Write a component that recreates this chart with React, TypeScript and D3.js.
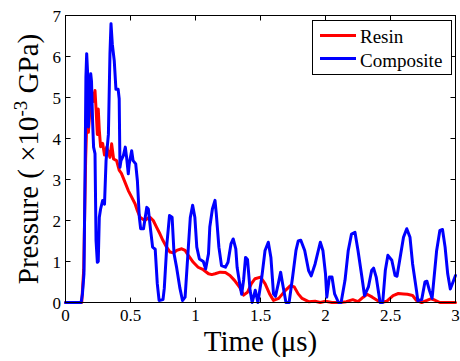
import React from "react";
import * as d3 from "d3";

const xTicks = [0, 0.5, 1, 1.5, 2, 2.5, 3];
const xTickLabels = ["0", "0.5", "1", "1.5", "2", "2.5", "3"];
const yTicks = [0, 1, 2, 3, 4, 5, 6, 7];
const yTickLabels = ["0", "1", "2", "3", "4", "5", "6", "7"];

const resinTime = [0, 0.125, 0.14, 0.155, 0.165, 0.176, 0.19, 0.2, 0.213, 0.227, 0.235, 0.245, 0.252, 0.26, 0.27, 0.286, 0.3, 0.317, 0.342, 0.355, 0.37, 0.393, 0.414, 0.43, 0.458, 0.483, 0.509, 0.535, 0.553, 0.573, 0.61, 0.63, 0.65, 0.675, 0.7, 0.727, 0.75, 0.778, 0.804, 0.83, 0.855, 0.894, 0.92, 0.945, 0.983, 1.02, 1.06, 1.1, 1.125, 1.15, 1.19, 1.23, 1.265, 1.3, 1.34, 1.37, 1.4, 1.43, 1.458, 1.5, 1.535, 1.57, 1.6, 1.64, 1.69, 1.73, 1.76, 1.79, 1.82, 1.87, 1.92, 1.96, 2.0, 2.05, 2.11, 2.16, 2.21, 2.25, 2.29, 2.32, 2.36, 2.4, 2.43, 2.47, 2.52, 2.56, 2.6, 2.63, 2.67, 2.7, 2.74, 2.78, 2.81, 2.84, 2.88, 2.94, 3.0];
const resinPressure = [0, 0, 0.8, 3.5, 4.5, 4.15, 4.8, 5.15, 4.9, 5.17, 4.72, 4.1, 4.72, 4.2, 3.8, 3.88, 3.6, 3.79, 3.54, 3.87, 3.5, 3.46, 3.22, 3.15, 2.93, 2.73, 2.57, 2.41, 2.24, 2.08, 2.0, 2.05, 2.08, 2.0, 1.84, 1.67, 1.51, 1.35, 1.23, 1.21, 1.27, 1.31, 1.27, 1.15, 0.98, 0.86, 0.8, 0.7, 0.68, 0.7, 0.74, 0.73, 0.66, 0.54, 0.37, 0.18, 0.25, 0.46, 0.58, 0.62, 0.46, 0.21, 0.05, 0.1, 0.29, 0.41, 0.38, 0.21, 0.1, 0.02, 0.03, 0, 0.03, 0, 0, 0.02, 0.07, 0.02, 0.13, 0.2, 0.13, 0.05, 0, 0.03, 0.17, 0.22, 0.21, 0.2, 0.17, 0.05, 0, 0.05, 0.09, 0.06, 0, 0, 0];

const compositeTime = [0, 0.12, 0.13, 0.142, 0.15, 0.157, 0.163, 0.17, 0.176, 0.185, 0.194, 0.2, 0.209, 0.216, 0.227, 0.235, 0.245, 0.252, 0.26, 0.27, 0.286, 0.3, 0.312, 0.33, 0.342, 0.35, 0.36, 0.375, 0.388, 0.405, 0.413, 0.419, 0.427, 0.445, 0.46, 0.47, 0.483, 0.49, 0.509, 0.52, 0.54, 0.553, 0.568, 0.578, 0.6, 0.625, 0.637, 0.655, 0.67, 0.69, 0.706, 0.72, 0.75, 0.76, 0.78, 0.8, 0.82, 0.835, 0.855, 0.88, 0.9, 0.92, 0.945, 0.96, 0.978, 0.995, 1.01, 1.03, 1.06, 1.078, 1.1, 1.11, 1.13, 1.15, 1.16, 1.18, 1.2, 1.23, 1.25, 1.273, 1.29, 1.31, 1.32, 1.34, 1.355, 1.37, 1.385, 1.4, 1.42, 1.436, 1.46, 1.48, 1.51, 1.535, 1.56, 1.58, 1.6, 1.615, 1.637, 1.655, 1.67, 1.696, 1.72, 1.747, 1.773, 1.79, 1.81, 1.84, 1.87, 1.89, 1.92, 1.96, 1.98, 2.0, 2.01, 2.03, 2.05, 2.07, 2.1, 2.12, 2.15, 2.175, 2.2, 2.227, 2.25, 2.28, 2.3, 2.33, 2.355, 2.37, 2.39, 2.42, 2.44, 2.46, 2.48, 2.51, 2.535, 2.55, 2.57, 2.6, 2.625, 2.65, 2.67, 2.7, 2.71, 2.74, 2.765, 2.78, 2.8, 2.82, 2.855, 2.88, 2.9, 2.92, 2.94, 2.96, 2.97, 3.0];
const compositePressure = [0, 0, 0.2, 0.7, 3.0, 5.5, 6.07, 5.6, 4.28, 5.1, 5.58, 5.4, 4.36, 3.79, 3.63, 1.51, 0.98, 1.0, 2.08, 2.28, 2.49, 2.4, 3.46, 4.1, 6.07, 6.8, 6.3, 5.9, 5.2, 5.2, 4.97, 3.3, 3.46, 3.58, 3.79, 3.54, 3.14, 3.38, 3.7, 3.46, 3.38, 2.97, 2.08, 1.8, 1.8, 2.32, 2.28, 1.76, 1.35, 1.3, 0.46, 0.05, 0.07, 0.35, 1.43, 2.12, 2.08, 1.19, 0.85, 0.35, 0.05, 0.13, 1.35, 2.07, 2.37, 2.08, 1.35, 1.06, 1.0, 0.82, 1.19, 1.84, 2.28, 2.49, 2.16, 1.35, 0.9, 0.86, 0.98, 1.43, 1.55, 1.31, 0.86, 0.46, 0.2, 0.55, 1.1, 1.05, 0.29, 0, 0.3, 0, 0.62, 1.27, 1.47, 1.1, 0.21, 0.15, 0.46, 0.74, 0.46, 0, 0, 0.62, 1.27, 1.5, 1.52, 1.27, 0.78, 0.65, 0.94, 1.47, 1.27, 0.7, 0.13, 0.62, 0.62, 0.21, 0, 0, 0.54, 1.27, 1.67, 1.71, 1.27, 0.62, 0.17, 0.38, 0.78, 0.84, 0.62, 0, 0, 0.78, 1.15, 1.03, 0.66, 0.64, 1.02, 1.59, 1.8, 1.59, 0.94, 0.29, 0.05, 0.07, 0.5, 0.52, 0.29, 0.1, 1.27, 1.76, 1.78, 1.35, 0.7, 0.33, 0.41, 0.66];

const seriesNames = ["Resin", "Composite"];
const seriesColors = ["#ff0000", "#0000ff"];

const W = 460, H = 361;
const L = 65.5, R = 455.5, T = 15.5, B = 302.5;
const FONT = "Liberation Serif, Times New Roman, serif";
const ts: React.CSSProperties = { fontFamily: FONT };

export default function App() {
  const x = d3.scaleLinear().domain([0, 3]).range([L, R]);
  const y = d3.scaleLinear().domain([0, 7]).range([B, T]);
  const line = d3.line<[number, number]>().x(d => x(d[0])).y(d => y(d[1]));
  const resin: [number, number][] = resinTime.map((t, i) => [t, resinPressure[i]]);
  const comp: [number, number][] = compositeTime.map((t, i) => [t, compositePressure[i]]);
  const tickLen = 5;
  return (
    <svg width={W} height={H} style={{ position: "absolute", left: 0, top: 0, background: "#fff" }}>
      <rect x={0} y={0} width={W} height={H} fill="#fff" />
      <defs>
        <clipPath id="plotclip">
          <rect x={L - 2} y={T - 2} width={R - L + 4} height={B - T + 4} />
        </clipPath>
      </defs>
      <g clipPath="url(#plotclip)" fill="none" strokeWidth={3} strokeLinejoin="round" strokeLinecap="round">
        <path d={line(resin) || ""} stroke={seriesColors[0]} />
        <path d={line(comp) || ""} stroke={seriesColors[1]} />
      </g>
      <rect x={L} y={T} width={R - L} height={B - T} fill="none" stroke="#000" strokeWidth={1} />
      {xTicks.map((t, i) => (
        <g key={"xt" + i}>
          <line x1={x(t)} x2={x(t)} y1={B} y2={B - tickLen} stroke="#000" />
          <line x1={x(t)} x2={x(t)} y1={T} y2={T + tickLen} stroke="#000" />
          <text x={x(t)} y={321} textAnchor="middle" fontSize={17} fill="#000" style={ts}>{xTickLabels[i]}</text>
        </g>
      ))}
      {yTicks.map((v, i) => (
        <g key={"yt" + i}>
          <line x1={L} x2={L + tickLen} y1={y(v)} y2={y(v)} stroke="#000" />
          <line x1={R} x2={R - tickLen} y1={y(v)} y2={y(v)} stroke="#000" />
          <text x={61} y={y(v) + 6} textAnchor="end" fontSize={17} fill="#000" style={ts}>{yTickLabels[i]}</text>
        </g>
      ))}
      <text x={(L + R) / 2} y={351} textAnchor="middle" fontSize={29} fill="#000" style={ts}>Time (μs)</text>
      <text transform={`translate(38, ${(T + B) / 2}) rotate(-90)`} textAnchor="middle" fontSize={29} fill="#000" style={ts}>
        Pressure ( ×10<tspan dy={-11} fontSize={19}>-3</tspan><tspan dy={11}> GPa)</tspan>
      </text>
      <g>
        <rect x={312.5} y={20.5} width={139} height={54} fill="#fff" stroke="#000" strokeWidth={1} />
        <line x1={320} x2={356} y1={35.5} y2={35.5} stroke={seriesColors[0]} strokeWidth={3} />
        <line x1={320} x2={356} y1={58.5} y2={58.5} stroke={seriesColors[1]} strokeWidth={3} />
        <text x={360} y={43} fontSize={19} fill="#000" style={ts}>{seriesNames[0]}</text>
        <text x={360} y={67} fontSize={19} fill="#000" style={ts}>{seriesNames[1]}</text>
      </g>
    </svg>
  );
}
